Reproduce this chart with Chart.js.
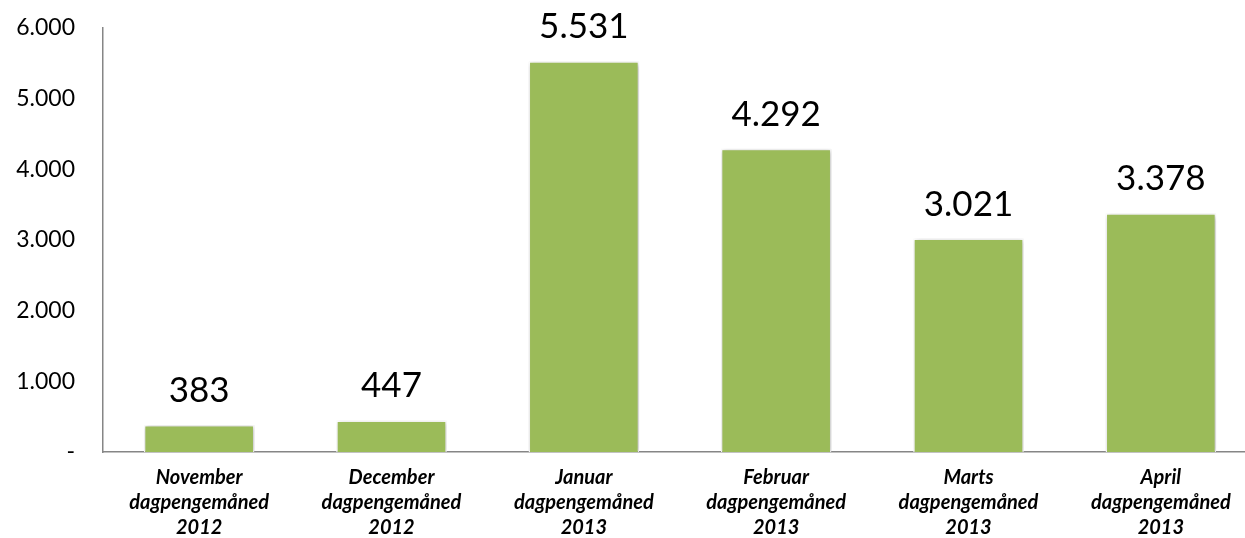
<!DOCTYPE html>
<html>
<head>
<meta charset="utf-8">
<script src="https://cdn.jsdelivr.net/npm/chart.js@4"></script>
<style>
html,body{margin:0;padding:0;background:#fff;overflow:hidden;}
#wrap{width:1245px;height:538px;position:relative;overflow:hidden;}
</style>
</head>
<body>
<div id="wrap"><canvas id="c" width="1257" height="538"></canvas></div>
<script>
const categories = [
  ["November", "dagpengemåned", "2012"],
  ["December", "dagpengemåned", "2012"],
  ["Januar", "dagpengemåned", "2013"],
  ["Februar", "dagpengemåned", "2013"],
  ["Marts", "dagpengemåned", "2013"],
  ["April", "dagpengemåned", "2013"]
];
const values = [383, 447, 5531, 4292, 3021, 3378];
const yTicks = [0, 1000, 2000, 3000, 4000, 5000, 6000];

function fmt(v) {
  if (v === 0) return "-";
  return String(Math.round(v)).replace(/\B(?=(\d{3})+(?!\d))/g, ".");
}

const FONT = "Lato, 'Open Sans', 'DejaVu Sans', sans-serif";

const labelPlugin = {
  id: 'valueLabels',
  afterDatasetsDraw(chart) {
    const ctx = chart.ctx;
    const meta = chart.getDatasetMeta(0);
    ctx.save();
    ctx.font = "35px " + FONT;
    ctx.fillStyle = "#000";
    ctx.textAlign = "center";
    ctx.textBaseline = "alphabetic";
    meta.data.forEach((bar, i) => {
      ctx.fillText(fmt(values[i]), bar.x, bar.y - 23);
    });
    ctx.restore();
  }
};

const shadowPlugin = {
  id: 'barShadow',
  beforeDatasetDraw(chart) {
    const ctx = chart.ctx;
    ctx.save();
    ctx.shadowColor = 'rgba(0,0,0,0.28)';
    ctx.shadowBlur = 5;
    ctx.shadowOffsetX = 1;
    ctx.shadowOffsetY = 1;
  },
  afterDatasetDraw(chart) {
    chart.ctx.restore();
  }
};

new Chart(document.getElementById('c'), {
  type: 'bar',
  data: {
    labels: categories,
    datasets: [{
      data: values,
      backgroundColor: '#9BBB59',
      borderColor: '#ffffff',
      borderWidth: 1.5,
      barPercentage: 0.575,
      categoryPercentage: 1.0
    }]
  },
  options: {
    responsive: false,
    animation: false,
    devicePixelRatio: 1,
    layout: { padding: { top: 28, right: 0, left: 0, bottom: 0 } },
    plugins: { legend: { display: false }, tooltip: { enabled: false } },
    scales: {
      x: {
        grid: { display: false, drawTicks: false },
        border: { display: true, color: '#868686', width: 1.5 },
        ticks: {
          color: '#000',
          font: { family: FONT, size: 20, weight: 'bold', style: 'italic', lineHeight: 1.25 },
          padding: 13,
          maxRotation: 0,
          autoSkip: false
        },
        afterFit(scale) { scale.height = 86; scale.paddingLeft = 0; scale.paddingRight = 0; }
      },
      y: {
        min: 0,
        max: 6000,
        afterBuildTicks(scale) { scale.ticks = yTicks.map(v => ({ value: v })); },
        grid: { display: false, drawTicks: false },
        border: { display: true, color: '#868686', width: 1.5 },
        ticks: {
          color: '#000',
          font: { family: FONT, size: 23 },
          padding: 28,
          callback: (v) => fmt(v)
        },
        afterFit(scale) { scale.width = 103; scale.paddingTop = 0; scale.paddingBottom = 0; }
      }
    }
  },
  plugins: [shadowPlugin, labelPlugin]
});
</script>
</body>
</html>
